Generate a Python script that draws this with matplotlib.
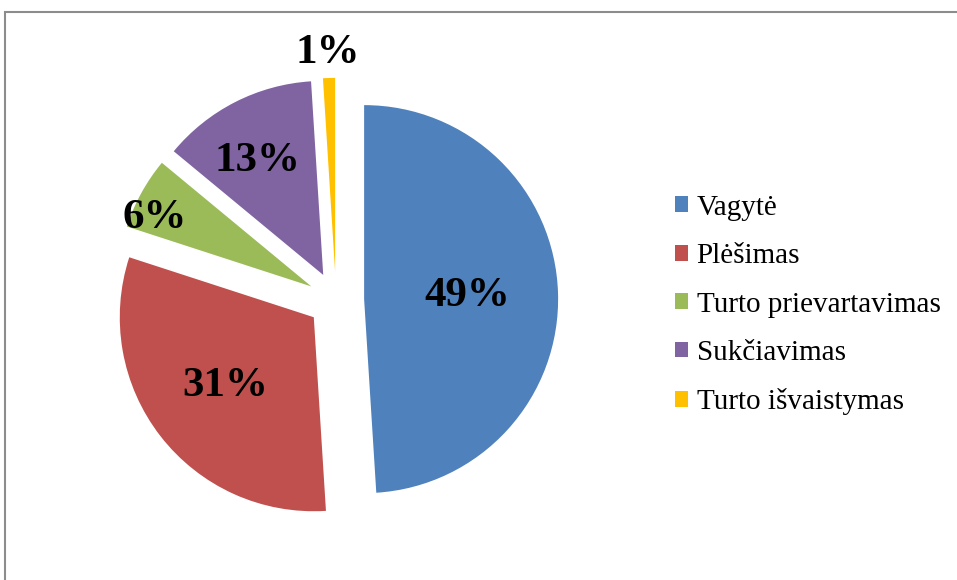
import numpy as np
import matplotlib
matplotlib.use('Agg')
import matplotlib.pyplot as plt
from matplotlib.patches import Rectangle

# Data
labels = ['Vagytė', 'Plėšimas', 'Turto prievartavimas', 'Sukčiavimas', 'Turto išvaistymas']
shares = [49, 31, 6, 13, 1]
colors = ['#4F81BD', '#C0504D', '#9BBB59', '#8064A2', '#FFC000']
# where the % text sits: fraction of radius and angle nudge (deg)
label_dist = [0.53, 0.58, 0.88, 0.68, 1.13]
label_nudge = [0, 0, 5, 3, 0]

plt.rcParams['font.family'] = ['Liberation Serif', 'DejaVu Serif']

fig = plt.figure(figsize=(9.57, 5.80), dpi=100)
ax = fig.add_axes([0, 0, 1, 1])

# pie centre / radius in pixels
cx, cy, R = 336, 300, 194
wedges, _ = ax.pie(shares, colors=colors, startangle=90, counterclock=False,
                   explode=[0.145] * len(shares), radius=1.0,
                   wedgeprops={'linewidth': 0})

# Percentage labels
for w, val, d, nd in zip(wedges, shares, label_dist, label_nudge):
    ang = np.deg2rad((w.theta1 + w.theta2) / 2 + nd)
    x = w.center[0] + d * w.r * np.cos(ang)
    y = w.center[1] + d * w.r * np.sin(ang)
    ax.text(x, y, f'{val}%', ha='center', va='center',
            fontsize=31, fontweight='bold', color='black')

ax.set_xlim(-cx / R, (957 - cx) / R)
ax.set_ylim(-(580 - cy) / R, cy / R)
ax.set_aspect('auto')
ax.axis('off')

# Legend
leg = fig.legend(wedges, labels, loc='center left', bbox_to_anchor=(0.705, 0.474),
                 frameon=False, fontsize=21, handlelength=0.45, handleheight=0.45,
                 handletextpad=0.3, labelspacing=0.77, borderpad=0, borderaxespad=0)

# Chart-area frame (only left and top edges are visible in the original)
fig.add_artist(Rectangle((5 / 957, -0.1), 1.2, 1.1 - 12 / 580,
                         transform=fig.transFigure, fill=False,
                         edgecolor='#8c8c8c', linewidth=1.5))

fig.savefig('out.png', dpi=100)
